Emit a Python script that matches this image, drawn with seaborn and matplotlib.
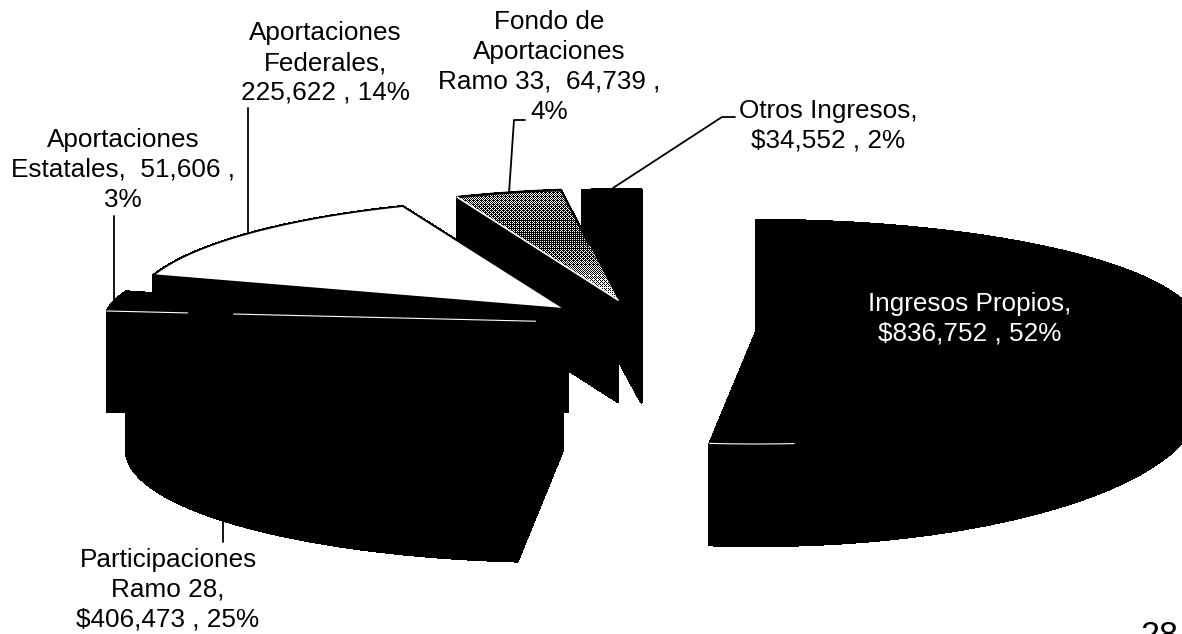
import numpy as np
import matplotlib
matplotlib.use("Agg")
import matplotlib.pyplot as plt
from matplotlib.collections import PolyCollection
from matplotlib.patches import Polygon
import seaborn as sns

categories = ["Ingresos Propios", "Participaciones Ramo 28", "Aportaciones Estatales",
              "Aportaciones Federales", "Fondo de Aportaciones Ramo 33", "Otros Ingresos"]
values = [836752, 406473, 51606, 225622, 64739, 34552]
label_texts = ["Ingresos Propios,\n$836,752 , 52%",
               "Participaciones\nRamo 28,\n$406,473 , 25%",
               "Aportaciones\nEstatales,  51,606 ,\n3%",
               "Aportaciones\nFederales,\n225,622 , 14%",
               "Fondo de\nAportaciones\nRamo 33,  64,739 ,\n4%",
               "Otros Ingresos,\n$34,552 , 2%"]
top_colors = ["black", "black", "black", "white", "none", "black"]

# projected geometry of each exploded slice (pixels of the page)
# apex x, apex y, rim a, rim b, apex drop, floor centre y, floor b
geometry = {
    0: (756, 332, 445, 112, 103, 401, 145),
    1: (563, 347, 437, 110, 103, 450, 112),
    2: (568, 322, 464, 100, 90, 423, 100),
    3: (565, 309, 432, 111, 100, 409, 111),
    4: (618, 300, 428, 111, 102, 402, 111),
    5: (641, 298, 440, 109, 104, 402, 109),
}
draw_order = [5, 4, 3, 2, 1, 0]

sns.set_theme(style="white")
plt.rcParams["font.family"] = ["Liberation Sans", "DejaVu Sans"]

fig, ax = plt.subplots(figsize=(11.82, 6.34), dpi=100)
ax.set_position([0, 0, 1, 1])
ax.set_xlim(0, 1182)
ax.set_ylim(634, 0)
ax.axis("off")

shares = np.array(values, dtype=float) / np.sum(values)
edges = np.concatenate([[0.0], np.cumsum(shares) * 2 * np.pi])


def rim(i, t):
    cx, cy, a, b, *_ = geometry[i]
    return np.column_stack([cx + a * np.sin(t), cy - b * np.cos(t)])


def floor(i, t):
    cx, _, a, _, _, fy, fb = geometry[i]
    return np.column_stack([cx + a * np.sin(t), fy - fb * np.cos(t)])


def stipple(patch, apex):
    """Ordered-dither screen for the grey slice, clipped to its top face."""
    x0, x1, y0, y1 = 450, 630, 180, 310
    xx, yy = np.meshgrid(np.arange(x0, x1), np.arange(y0, y1))
    bayer = np.array([[0, 8, 2, 10], [12, 4, 14, 6], [3, 11, 1, 9], [15, 7, 13, 5]]) / 16.0
    screen = bayer[yy % 4, xx % 4]
    reach = np.clip((apex[1] - yy) / 110.0, 0, 1)
    dark = np.interp(reach, [0.0, 0.25, 0.55, 1.0], [0.12, 0.45, 0.72, 0.5])
    img = (screen > dark).astype(float)
    im = ax.imshow(img, extent=(x0, x1, y1, y0), cmap="gray", vmin=0, vmax=1,
                   interpolation="antialiased", aspect="auto", zorder=2)
    im.set_clip_path(patch)


for i in draw_order:
    cx, cy, a, b, drop, fy, fb = geometry[i]
    t = np.linspace(edges[i], edges[i + 1], 90)
    top = rim(i, t)
    bot = floor(i, t)
    apex = np.array([cx, cy])
    apex_low = np.array([cx, cy + drop])
    quads = [np.array([top[k], top[k + 1], bot[k + 1], bot[k]]) for k in range(len(t) - 1)]
    quads.append(np.array([apex, top[0], bot[0], apex_low]))
    quads.append(np.array([apex, top[-1], bot[-1], apex_low]))
    ax.add_collection(PolyCollection(quads, facecolors="black", edgecolors="black",
                                     linewidths=1.0, antialiaseds=False, zorder=2))
    face = np.vstack([apex, top])
    if i == 4:
        back = Polygon(face, closed=True, facecolor="white", edgecolor="none", zorder=2)
        ax.add_patch(back)
        stipple(back, apex)
        # heavy back rim and the shaded half of the near edge, pale far edge
        ax.plot(top[:, 0], top[:, 1], color="black", lw=1.8, zorder=2.1)
        mid = top[-1] + (apex - top[-1]) * 0.5
        ax.plot([top[-1, 0], mid[0]], [top[-1, 1], mid[1]], color="black", lw=1.6, zorder=2.1)
        ax.plot([top[0, 0], apex[0]], [top[0, 1], apex[1]], color="white", lw=1.2, zorder=2.1)
    else:
        ax.add_patch(Polygon(face, closed=True, facecolor=top_colors[i], edgecolor="black",
                             linewidth=1.2, zorder=2))


# thin light creases left on the black faces
def radial_crease(i, t0, f0, f1):
    p = rim(i, np.array([t0]))[0]
    q = np.array(geometry[i][:2], dtype=float)
    s0, s1 = p + (q - p) * f0, p + (q - p) * f1
    ax.plot([s0[0], s1[0]], [s0[1], s1[1]], color="white", lw=0.8, zorder=3)


radial_crease(2, edges[2], 0.0, 0.175)
radial_crease(2, edges[2], 0.275, 0.93)
t_front = np.linspace(edges[1], edges[1] - 0.19, 12)
front = rim(0, t_front)
ax.plot(front[:, 0], front[:, 1], color="white", lw=0.8, zorder=3)

# leader lines
leaders = [
    ([114, 114], [216, 300]),
    ([248, 248], [108, 233]),
    ([525, 514, 509], [120, 120, 193]),
    ([613, 722, 735], [188, 117, 117]),
    ([223, 223], [520, 542]),
]
for xs, ys in leaders:
    ax.plot(xs, ys, color="black", lw=1.3, zorder=4)

fs = 18.8
positions = [(970, 319), (168, 590), (123, 170), (325, 63), (549, 67), (828, 126)]
for i, txt in enumerate(label_texts):
    ax.text(*positions[i], txt, ha="center", va="center", fontsize=fs,
            color="white" if i == 0 else "black", linespacing=1.3, zorder=5)

ax.text(1159, 645, "28", ha="center", va="baseline", fontsize=24.5, color="black", zorder=5)

fig.savefig("out.png", dpi=100, facecolor="white")
